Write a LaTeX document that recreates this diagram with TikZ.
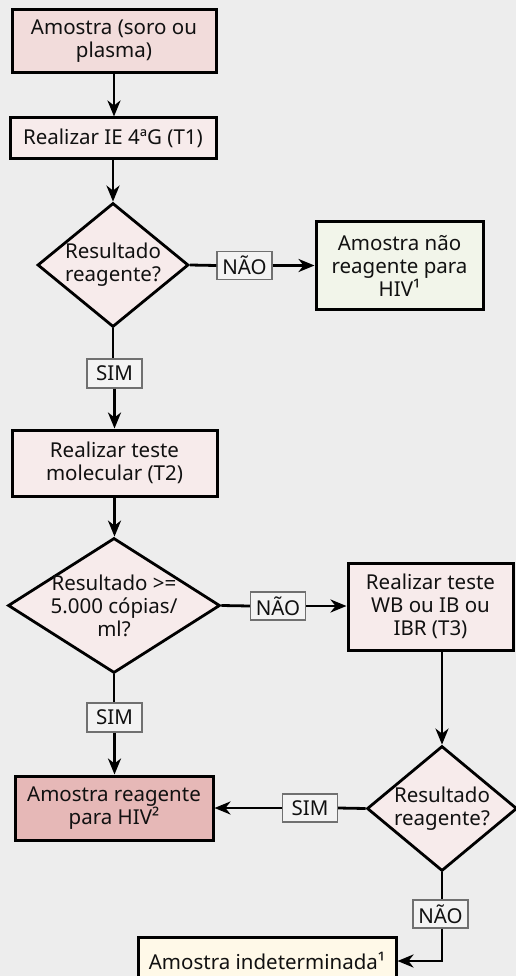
\documentclass[tikz,border=0pt]{standalone}
\usepackage{fontspec}
\setmainfont{Noto Sans}
\usetikzlibrary{shapes.geometric,arrows.meta}
\definecolor{bg}{HTML}{EDEDED}
\definecolor{pinkA}{HTML}{F2DCDB}
\definecolor{pinkB}{HTML}{F7EBEB}
\definecolor{redbox}{HTML}{E6B8B7}
\definecolor{greenbox}{HTML}{F2F5EA}
\definecolor{creambox}{HTML}{FFF9E8}
\definecolor{lblfill}{HTML}{F3F3F3}
\definecolor{lbldraw}{HTML}{707070}
\definecolor{txt}{HTML}{111111}
\tikzset{
  x=1pt, y=1pt,
  every node/.style={font=\fontsize{20.5}{23}\selectfont, text=txt, align=center, inner sep=0pt},
  procbox/.style={draw=black, line width=3pt, rectangle},
  decbox/.style={draw=black, line width=2.8pt, diamond, fill=pinkB, inner sep=0pt},
  lblbox/.style={draw=lbldraw, line width=1.1pt, fill=lblfill, minimum width=55pt, minimum height=28pt},
  conn/.style={line width=2.8pt, draw=black},
  arr/.style={conn, -{Stealth[length=16pt, width=13pt, inset=5pt]}},
}
\begin{document}
\begin{tikzpicture}
\useasboundingbox (0,0) rectangle (516,-976);
\fill[bg] (0,0) rectangle (516,-976);
\begin{scope}
\clip (0,0) rectangle (516,-976);
% boxes
\node[procbox, fill=pinkA, minimum width=204pt, minimum height=63pt] (b1) at (114,-41.5) {Amostra (soro ou\\plasma)};
\node[procbox, fill=pinkB, minimum width=206pt, minimum height=41pt] (b2) at (113,-138.5) {Realizar IE 4ªG (T1)};
\node[decbox, minimum width=151pt, minimum height=124pt] (d1) at (113,-265) {};
\node at (d1) {Resultado\\reagente?};
\node[lblbox] (l1) at (244.5,-265.5) {NÃO};
\node[procbox, fill=greenbox, minimum width=167pt, minimum height=87pt] (g1) at (399.5,-265.5) {Amostra não\\reagente para\\HIV¹};
\node[lblbox, minimum height=29pt] (l2) at (114.5,-373.5) {SIM};
\node[procbox, fill=pinkB, minimum width=205pt, minimum height=66pt] (b3) at (114.5,-463) {Realizar teste\\molecular (T2)};
\node[decbox, minimum width=212pt, minimum height=135pt] (d2) at (114,-605.5) {};
\node at (d2) {Resultado >=\\5.000 cópias/\\ml?};
\node[lblbox] (l3) at (278,-606) {NÃO};
\node[procbox, fill=pinkB, minimum width=165pt, minimum height=87pt] (b4) at (430.5,-606.5) {Realizar teste\\WB ou IB ou\\IBR (T3)};
\node[decbox, minimum width=150pt, minimum height=125pt] (d3) at (442,-808.5) {};
\node at (d3) {Resultado\\reagente?};
\node[lblbox, minimum height=29pt] (l4) at (114.5,-717.5) {SIM};
\node[procbox, fill=redbox, minimum width=198pt, minimum height=64pt] (r1) at (114,-808) {Amostra reagente\\para HIV²};
\node[lblbox] (l5) at (310,-808) {SIM};
\node[lblbox] (l6) at (440.5,-914) {NÃO};
\node[procbox, fill=creambox, minimum width=258pt, minimum height=48pt] (ind) at (267,-961) {Amostra indeterminada¹};
% connectors
\draw[arr] (b1.south) -- (b1.south |- b2.north);
\draw[arr] (b2.south) -- (b2.south |- d1.north);
\draw[conn] (d1.east) -- (l1.west);
\draw[arr] (l1.east) -- (g1.west |- l1.east);
\draw[conn] (d1.south) -- (d1.south |- l2.north);
\draw[arr] (l2.south) -- (l2.south |- b3.north);
\draw[arr] (b3.south) -- (b3.south |- d2.north);
\draw[conn] (d2.east) -- (l3.west);
\draw[arr] (l3.east) -- (b4.west |- l3.east);
\draw[arr] (b4.south -| d3.north) -- (d3.north);
\draw[conn] (d2.south) -- (d2.south |- l4.north);
\draw[arr] (l4.south) -- (l4.south |- r1.north);
\draw[conn] (d3.west) -- (l5.east);
\draw[arr] (l5.west) -- (r1.east |- l5.west);
\draw[conn] (d3.south) -- (d3.south |- l6.north);
\draw[arr] (l6.south -| d3.south) |- (ind.east);
\end{scope}
\end{tikzpicture}
\end{document}
